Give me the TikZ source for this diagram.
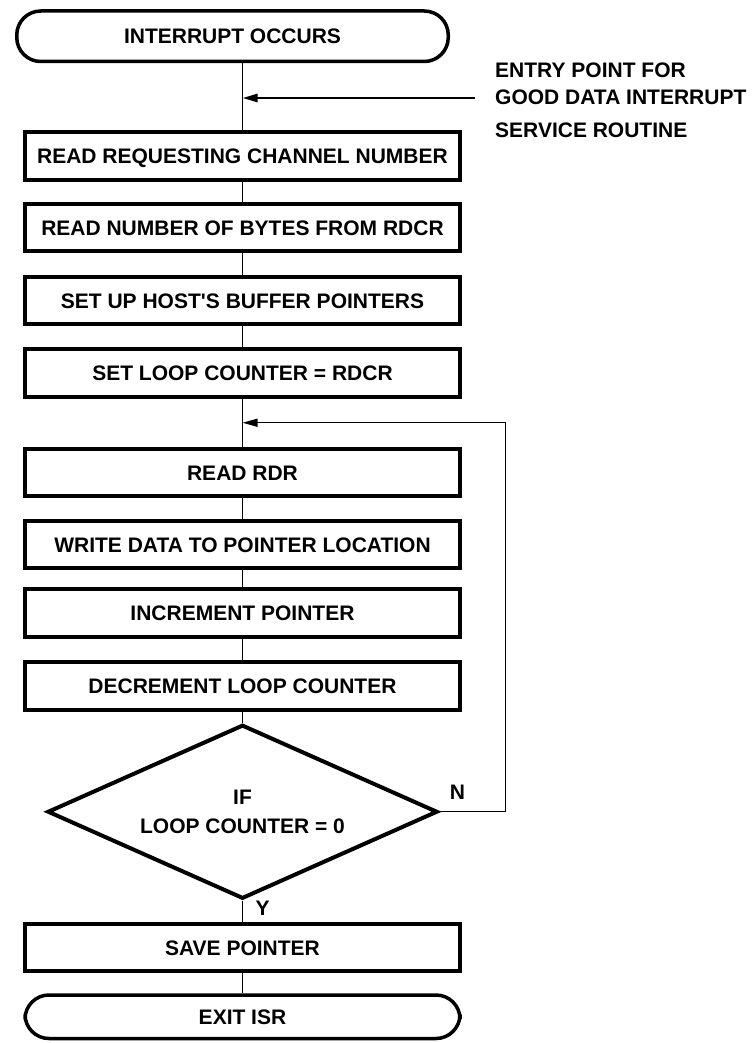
\documentclass[tikz,border=0pt]{standalone}
\usepackage{fontspec}
\setmainfont{Liberation Sans}
\usetikzlibrary{positioning,shapes.geometric,arrows.meta}

\begin{document}
\begin{tikzpicture}[x=1pt, y=-1pt, node distance=20pt,
    every node/.style={font=\fontsize{21}{27}\selectfont\bfseries},
    process/.style={draw, rectangle, line width=4pt, minimum width=435pt, minimum height=47.5pt, text height=15pt, text depth=0pt, inner sep=0pt},
    terminal/.style={draw, rectangle, rounded corners=24pt, line width=3.5pt, minimum width=431.5pt, minimum height=50.5pt, text height=15pt, text depth=0pt, inner sep=0pt},
    decision/.style={draw, diamond, aspect=2.25, line width=4pt, minimum width=390pt, minimum height=174pt, inner sep=0pt, align=center},
    flow/.style={line width=1.7pt},
    >={Triangle[length=15pt,width=8pt]}]
    \useasboundingbox (0,0) rectangle (754,1043);

    \node[process] (box1) at (242.5,156) {READ REQUESTING CHANNEL NUMBER};
    \node[terminal, above=67pt of box1, xshift=-10pt] (start) {INTERRUPT OCCURS};
    \node[process, below=20pt of box1] (box2) {READ NUMBER OF BYTES FROM RDCR};
    \node[process, below=21.5pt of box2] (box3) {SET UP HOST\textquotesingle S BUFFER POINTERS};
    \node[process, below=21pt of box3] (box4) {SET LOOP COUNTER = RDCR};
    \node[process, below=48pt of box4] (box5) {READ RDR};
    \node[process, below=20.5pt of box5] (box6) {WRITE DATA TO POINTER LOCATION};
    \node[process, below=17pt of box6] (box7) {INCREMENT POINTER};
    \node[process, below=21.5pt of box7] (box8) {DECREMENT LOOP COUNTER};
    \node[decision, below=11pt of box8] (test) {IF\\[2pt]LOOP COUNTER = 0};
    \node[process, below=21pt of test] (save) {SAVE POINTER};
    \node[terminal, below=20pt of save, minimum width=435pt, minimum height=43.5pt] (exit) {EXIT ISR};

    % entry point from the good data interrupt
    \coordinate (entry) at (475,98);
    \node[anchor=north west, inner sep=0pt, align=left] (entrytext) at ([xshift=20pt,yshift=35pt]entry)
        {ENTRY POINT FOR\\GOOD DATA INTERRUPT\\[6pt]SERVICE ROUTINE};

    \draw[flow] (box1.north |- start.south) -- (box1.north);
    \draw[flow] (box1) -- (box2);
    \draw[flow] (box2) -- (box3);
    \draw[flow] (box3) -- (box4);
    \draw[flow] (box4) -- (box5) coordinate[midway] (loopin);
    \draw[flow] (box5) -- (box6);
    \draw[flow] (box6) -- (box7);
    \draw[flow] (box7) -- (box8);
    \draw[flow] (box8) -- (test);
    \draw[flow] (test) -- (save);
    \draw[flow] (save) -- (exit);

    \draw[->, line width=2.5pt] (entry) -- (entry -| box1.north);
    \draw[->, line width=1.3pt] (test.east) -- ++(66pt,0) |- (loopin);

    \node (nlabel) at ([xshift=18pt,yshift=19pt]test.east) {N};
    \node (ylabel) at ([xshift=20pt,yshift=-8pt]test.south) {Y};
\end{tikzpicture}
\end{document}
